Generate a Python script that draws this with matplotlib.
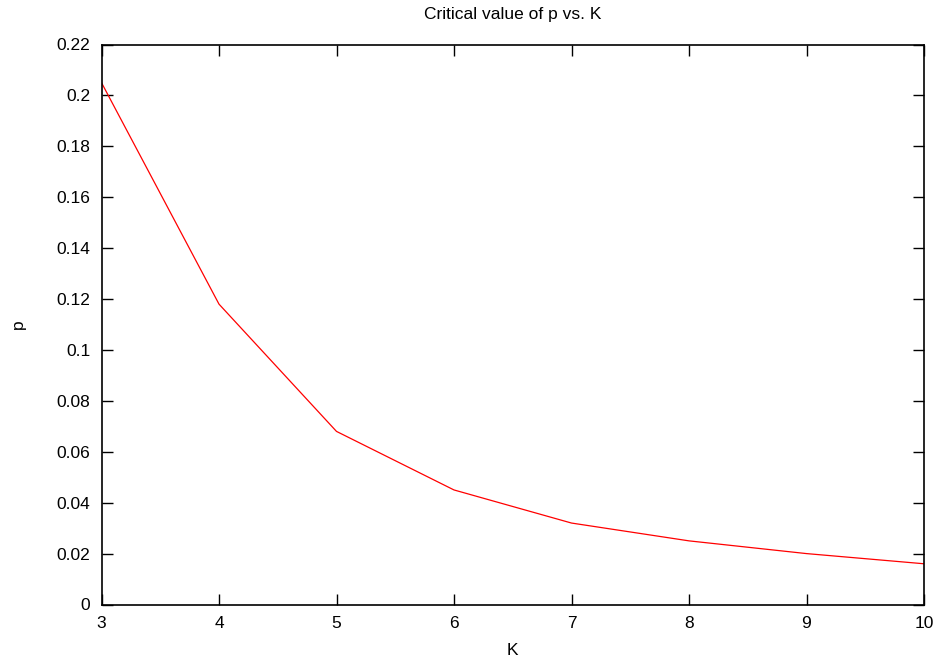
import numpy as np
import matplotlib
matplotlib.use('Agg')
import matplotlib.pyplot as plt

plt.rcParams['font.family'] = ['Liberation Sans', 'DejaVu Sans']

# data
K = [3, 4, 5, 6, 7, 8, 9, 10]
p = [0.205, 0.118, 0.068, 0.045, 0.032, 0.025, 0.020, 0.016]
yticks = np.arange(0, 0.221, 0.02)
ylabels = ['0', '0.02', '0.04', '0.06', '0.08', '0.1', '0.12', '0.14',
           '0.16', '0.18', '0.2', '0.22']

fig = plt.figure(figsize=(9.41, 6.64), dpi=100)
ax = fig.add_axes([101.5/941, 1 - 604.5/664, (924 - 101.5)/941, (604.5 - 44.5)/664])

ax.plot(K, p, color='#ff0000', linewidth=0.9)
ax.set_xlim(3, 10)
ax.set_ylim(0, 0.22)
ax.set_xticks(K)
ax.set_yticks(yticks)
ax.set_yticklabels(ylabels)
ax.tick_params(direction='in', length=8, width=1, top=True, right=True,
               labelsize=12.5, pad=8)
for s in ax.spines.values():
    s.set_linewidth(1.2)

ax.set_xlabel('K', fontsize=12.5, labelpad=9)
ax.set_ylabel('p', fontsize=12.5, labelpad=22)
ax.set_title('Critical value of p vs. K', fontsize=12.5, pad=18)

fig.savefig('out.png', dpi=100)
